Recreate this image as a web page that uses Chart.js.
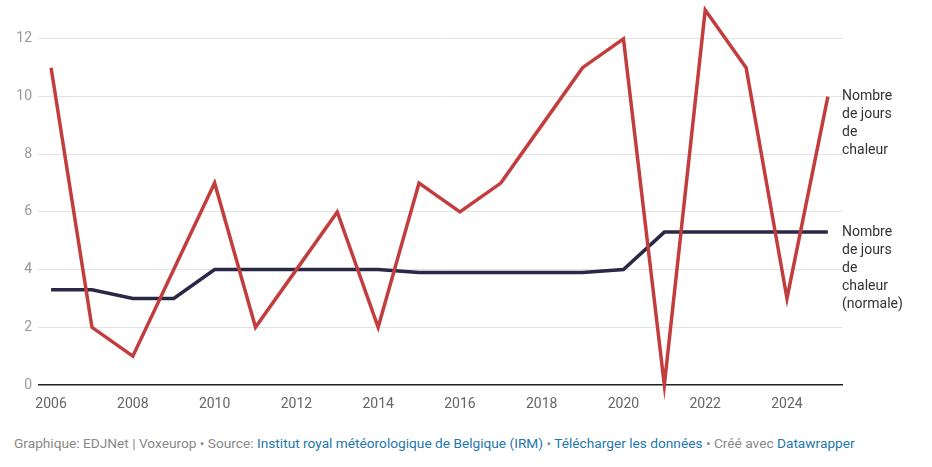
<!DOCTYPE html>
<html>
<head>
<meta charset="utf-8">
<script src="https://cdn.jsdelivr.net/npm/chart.js@4/dist/chart.umd.min.js"></script>
<style>
  body { margin: 0; background: #fff; font-family: Roboto, sans-serif; }
  #wrap { position: relative; width: 932px; height: 426px; }
  .footer { margin: 9px 0 0 14px; font-size: 13.7px; color: #888; }
  .footer a { color: #2477ab; text-decoration: none; }
</style>
</head>
<body>
<div id="wrap"><canvas id="heatChart"></canvas></div>
<div class="footer">Graphique: EDJNet | Voxeurop • Source: <a>Institut royal météorologique de Belgique (IRM)</a> • <a>Télécharger les données</a> • Créé avec <a>Datawrapper</a></div>
<script>
// Data
const years = [2006, 2007, 2008, 2009, 2010, 2011, 2012, 2013, 2014, 2015,
  2016, 2017, 2018, 2019, 2020, 2021, 2022, 2023, 2024, 2025];
const heatDays = [11, 2, 1, 4, 7, 2, 4, 6, 2, 7, 6, 7, 9, 11, 12, 0, 13, 11, 3, 10];
const heatNormal = [3.3, 3.3, 3.0, 3.0, 4, 4, 4, 4, 4, 3.9, 3.9, 3.9, 3.9, 3.9, 4.0, 5.3, 5.3, 5.3, 5.3, 5.3];
const xTicks = [2006, 2008, 2010, 2012, 2014, 2016, 2018, 2020, 2022, 2024];
const yTicks = [0, 2, 4, 6, 8, 10, 12];
const heatLabel = ["Nombre", "de jours", "de", "chaleur"];
const normalLabel = ["Nombre", "de jours", "de", "chaleur", "(normale)"];

// Draw the series names at the end of each line
const endLabels = {
  id: "endLabels",
  afterDatasetsDraw(chart) {
    const ctx = chart.ctx;
    ctx.save();
    ctx.font = "14px Roboto";
    ctx.fillStyle = "#333";
    ctx.textBaseline = "middle";
    ctx.textAlign = "left";
    chart.data.datasets.forEach((ds, i) => {
      const meta = chart.getDatasetMeta(i);
      const last = meta.data[meta.data.length - 1];
      ds.endLabel.forEach((line, j) => {
        ctx.fillText(line, chart.chartArea.right - 1, last.y + j * 18);
      });
    });
    ctx.restore();
  },
};

const toPoints = (vals) => vals.map((v, i) => ({ x: years[i], y: v }));

new Chart(document.getElementById("heatChart"), {
  type: "line",
  data: {
    datasets: [
      {
        data: toPoints(heatDays),
        borderColor: "#c23d3d",
        borderWidth: 3.5,
        pointRadius: 0,
        clip: false,
        endLabel: heatLabel,
      },
      {
        data: toPoints(heatNormal),
        borderColor: "#2a2847",
        borderWidth: 3.5,
        pointRadius: 0,
        clip: false,
        endLabel: normalLabel,
      },
    ],
  },
  options: {
    responsive: true,
    maintainAspectRatio: false,
    animation: false,
    layout: { padding: { top: 10, right: 89, bottom: 0, left: 0 } },
    plugins: { legend: { display: false }, tooltip: { enabled: false } },
    scales: {
      x: {
        type: "linear",
        min: 2005.68,
        max: 2025.37,
        afterBuildTicks: (scale) => {
          scale.ticks = xTicks.map((v) => ({ value: v }));
        },
        afterFit: (scale) => { scale.height = 41; },
        grid: { display: false },
        border: { display: false },
        ticks: {
          color: "#666",
          font: { family: "Roboto", size: 14 },
          padding: 3,
          maxRotation: 0,
          callback: (v) => String(v),
        },
      },
      y: {
        min: 0,
        max: 13,
        afterBuildTicks: (scale) => {
          scale.ticks = yTicks.map((v) => ({ value: v }));
        },
        afterFit: (scale) => {
          scale.width = 38;
          scale.paddingTop = 0;
          scale.paddingBottom = 0;
        },
        border: { display: false },
        grid: {
          drawTicks: false,
          color: (c) => (c.tick && c.tick.value === 0 ? "#222" : "#e3e3e3"),
          lineWidth: (c) => (c.tick && c.tick.value === 0 ? 1.5 : 1),
        },
        ticks: {
          color: "#999",
          font: { family: "Roboto", size: 14 },
          padding: 6,
        },
      },
    },
  },
  plugins: [endLabels],
});
</script>
</body>
</html>
